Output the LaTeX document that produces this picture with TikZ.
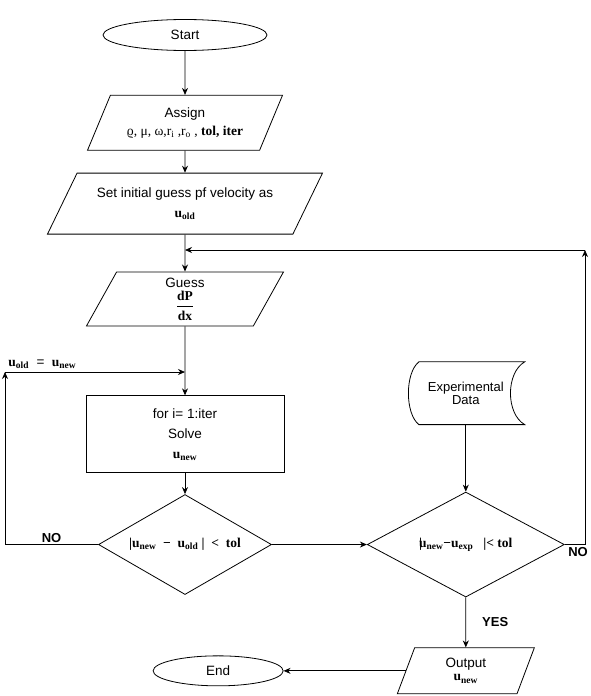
\documentclass[tikz,border=0pt]{standalone}
\usepackage{amsmath,amssymb}
\usepackage[no-math]{fontspec}
\setmainfont{Liberation Sans}
\newfontfamily\tnr{Liberation Serif}
\usepackage{xcolor}
\usepackage{tikz}
\usetikzlibrary{arrows.meta, positioning, shapes.geometric}
\newcommand{\uvar}[1]{{\tnr\bfseries u\textsubscript{#1}}}
\newcommand{\sym}[1]{{\tnr\bfseries #1}}
\newcommand{\rhosym}{\iffontchar\font"03F1 \char"03F1 \else$\varrho$\fi}

\begin{document}
\begin{tikzpicture}[
  x=1pt, y=-1pt, line width=0.8pt,
  font=\fontsize{13.5}{16}\selectfont,
  terminal/.style={ellipse, draw, minimum width=164pt, minimum height=31pt,
    inner sep=0pt},
  io/.style={trapezium, draw, trapezium stretches body, align=center,
    inner sep=1pt},
  process/.style={rectangle, draw, minimum width=198pt, minimum height=77pt,
    align=center},
  decision/.style={diamond, draw, inner sep=0pt},
  datastore/.style={rectangle, minimum width=117pt, minimum height=62pt,
    align=center, font=\fontsize{13}{13}\selectfont},
  tag/.style={font=\fontsize{13}{16}\selectfont\bfseries, inner sep=2pt},
  arrow/.style={-{Stealth[length=7pt, width=6pt]}}
]
  \useasboundingbox (0,0) rectangle (591,696);

  \node[terminal] (start) at (185,35) {Start};
  \node[io, below=44pt of start, minimum width=195pt, minimum height=55pt,
    trapezium left angle=55, trapezium right angle=125] (assign)
    {Assign\\[2pt]{\tnr\rhosym, μ, ω,r\textsubscript{i} ,r\textsubscript{o} ,
     \bfseries tol, iter}};
  \node[io, below=22pt of assign, minimum width=275pt, minimum height=61pt,
    trapezium left angle=49, trapezium right angle=131] (initguess)
    {Set initial guess pf velocity as\\[4pt]\uvar{old}};
  \node[io, below=37pt of initguess, minimum width=197pt, minimum height=54pt,
    trapezium left angle=56, trapezium right angle=124] (guess)
    {Guess\\[3pt]$\dfrac{\hbox{\sym{dP}}}{\hbox{\sym{dx}}}$};
  \node[process, below=69pt of guess] (solve)
    {for i= 1:iter\\[4pt]Solve\\[4pt]\uvar{new}};
  \node[decision, below=21pt of solve, aspect=1.73,
    minimum width=173pt, minimum height=100pt] (check)
    {\sym{|\uvar{new} \ − \ \uvar{old} | \ < \ tol}};
  \node[decision, right=95pt of check, aspect=1.88,
    minimum width=197pt, minimum height=105pt] (compare)
    {\sym{\rlap{|}\uvar{new}−\uvar{exp}\ \ \ |< tol}};
  \node[datastore, above=67pt of compare] (expdata) {Experimental\\Data};
  \node[io, below=50pt of compare, minimum width=137pt, minimum height=46pt,
    trapezium left angle=57, trapezium right angle=123] (output)
    {Output\\[-3pt]\uvar{new}};
  \node[terminal, left=122pt of output, minimum width=130pt,
    minimum height=30pt] (end) {End};

  \draw ([xshift=12pt]expdata.north west) -- (expdata.north east)
    .. controls ([xshift=-19pt,yshift=-11pt]expdata.north east)
    and ([xshift=-19pt,yshift=11pt]expdata.south east) .. (expdata.south east)
    -- ([xshift=12pt]expdata.south west)
    .. controls ([xshift=-2pt,yshift=11pt]expdata.south west)
    and ([xshift=-2pt,yshift=-11pt]expdata.north west) .. cycle;

  \coordinate (loopright) at (585,250);
  \coordinate (loopleft) at (5,372);
  \coordinate (joinguess) at (guess.north |- loopright);
  \coordinate (joinsolve) at (solve.north |- loopleft);

  \draw[arrow] (start) -- (assign);
  \draw[arrow] (assign) -- (initguess);
  \draw[arrow] (initguess) -- (guess);
  \draw[arrow] (guess) -- (solve);
  \draw[arrow] (solve) -- (check);
  \draw[arrow] (check) -- (compare);
  \draw[arrow] (expdata) -- (compare);
  \draw[arrow] (compare) -- node[tag, midway, right=14pt] {YES} (output);
  \draw[arrow] (output) -- (end);
  \draw[arrow] (check.west) -| node[tag, pos=0.25, above] {NO} (loopleft);
  \draw[arrow] (loopleft) -- node[pos=0, above right, inner sep=3pt]
    {\uvar{old} \ = \ \uvar{new}} (joinsolve);
  \draw[arrow] (compare.east) -| node[tag, pos=0.33, below] {NO} (loopright);
  \draw[arrow] (loopright) -- (joinguess);
\end{tikzpicture}
\end{document}
